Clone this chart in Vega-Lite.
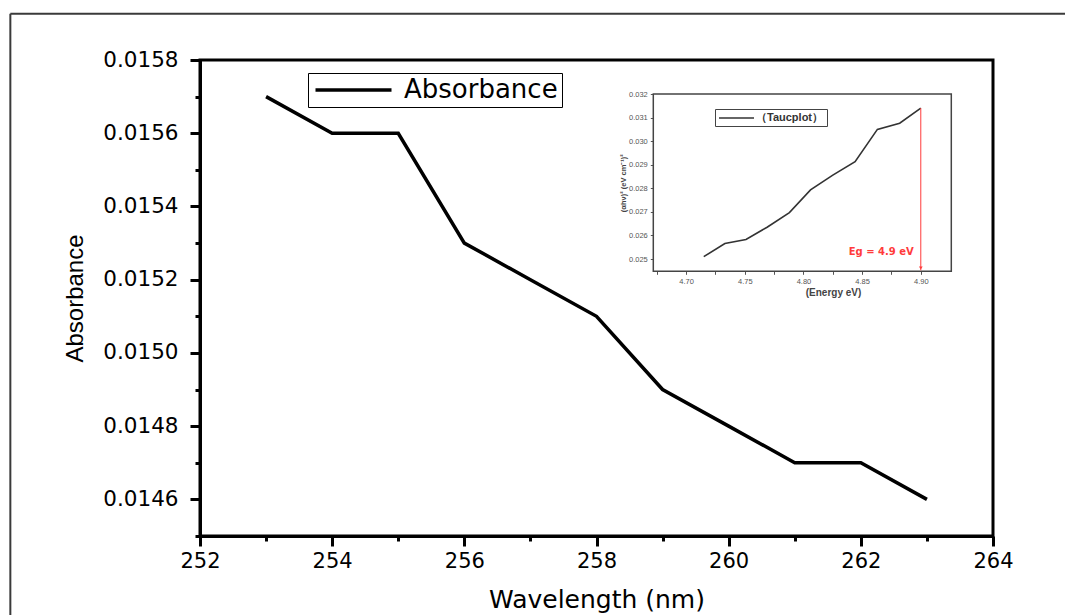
{
  "$schema": "https://vega.github.io/schema/vega-lite/v6.json",
  "width": 793,
  "height": 476,
  "autosize": {"type": "none"},
  "padding": {"left": 200, "top": 60, "right": 72, "bottom": 79},
  "background": "white",
  "config": {
    "view": {"stroke": "black", "strokeWidth": 3},
    "axis": {"grid": false, "labelOverlap": false, "labelFlush": false}
  },
  "layer": [
    {
      "resolve": {"axis": {"x": "independent", "y": "independent"}},
      "layer": [
        {
          "data": {"values": [{}]},
          "mark": {"type": "rule", "color": "#3a3a3a", "strokeWidth": 2},
          "encoding": {
            "x": {"datum": 249.13, "type": "quantitative", "axis": null},
            "y": {
              "datum": 0.015926,
              "type": "quantitative",
              "axis": {
                "orient": "left",
                "values": [0.0145, 0.0147, 0.0149, 0.0151, 0.0153, 0.0155, 0.0157],
                "labels": false,
                "domain": false,
                "tickSize": 5,
                "tickWidth": 3,
                "tickColor": "black",
                "title": null
              }
            },
            "y2": {"datum": 0.0141}
          }
        },
        {
          "data": {"values": [{}]},
          "mark": {"type": "rule", "color": "#3a3a3a", "strokeWidth": 2},
          "encoding": {
            "x": {
              "datum": 249.13,
              "type": "quantitative",
              "axis": {
                "orient": "bottom",
                "values": [253, 255, 257, 259, 261, 263],
                "labels": false,
                "domain": false,
                "tickSize": 5,
                "tickWidth": 3,
                "tickColor": "black",
                "title": null
              }
            },
            "x2": {"datum": 266.5},
            "y": {"datum": 0.015926, "type": "quantitative", "axis": null}
          }
        },
        {
          "data": {
            "values": [
              {"wavelength": 253, "absorbance": 0.0157},
              {"wavelength": 254, "absorbance": 0.0156},
              {"wavelength": 255, "absorbance": 0.0156},
              {"wavelength": 256, "absorbance": 0.0153},
              {"wavelength": 257, "absorbance": 0.0152},
              {"wavelength": 258, "absorbance": 0.0151},
              {"wavelength": 259, "absorbance": 0.0149},
              {"wavelength": 260, "absorbance": 0.0148},
              {"wavelength": 261, "absorbance": 0.0147},
              {"wavelength": 262, "absorbance": 0.0147},
              {"wavelength": 263, "absorbance": 0.0146}
            ]
          },
          "mark": {"type": "line", "strokeWidth": 3.5, "strokeJoin": "miter"},
          "encoding": {
            "x": {
              "field": "wavelength",
              "type": "quantitative",
              "scale": {"domain": [252, 264], "nice": false, "zero": false},
              "axis": {
                "orient": "bottom",
                "values": [252, 254, 256, 258, 260, 262, 264],
                "format": "d",
                "tickSize": 10,
                "tickWidth": 3,
                "tickColor": "black",
                "domainColor": "black",
                "domainWidth": 3,
                "labelFont": "DejaVu Sans",
                "labelFontSize": 21,
                "labelColor": "black",
                "labelPadding": 4,
                "title": "Wavelength (nm)",
                "titleFont": "DejaVu Sans",
                "titleFontSize": 25,
                "titleFontWeight": "normal",
                "titleColor": "black",
                "titleBaseline": "alphabetic",
                "titleY": 71
              }
            },
            "y": {
              "field": "absorbance",
              "type": "quantitative",
              "scale": {"domain": [0.0145, 0.0158], "nice": false, "zero": false},
              "axis": {
                "orient": "left",
                "values": [0.0146, 0.0148, 0.015, 0.0152, 0.0154, 0.0156, 0.0158],
                "format": ".4f",
                "tickSize": 10,
                "tickWidth": 3,
                "tickColor": "black",
                "domainColor": "black",
                "domainWidth": 3,
                "labelFont": "DejaVu Sans",
                "labelFontSize": 21.5,
                "labelColor": "black",
                "labelPadding": 12,
                "labelBaseline": "middle",
                "title": "Absorbance",
                "titleFont": "Liberation Sans",
                "titleFontSize": 24,
                "titleFontWeight": "normal",
                "titleColor": "black",
                "titleAngle": -90,
                "titleBaseline": "alphabetic",
                "titleX": -118,
                "titleY": 238
              }
            },
            "color": {
              "datum": "Absorbance",
              "scale": {"range": ["black"]},
              "legend": {
                "orient": "none",
                "legendX": 108,
                "legendY": 13,
                "title": null,
                "symbolType": "M-1,0H7",
                "symbolSize": 361,
                "symbolStrokeWidth": 3.5,
                "labelFont": "DejaVu Sans",
                "labelFontSize": 26,
                "labelColor": "black",
                "labelOffset": 66,
                "labelLimit": 400,
                "padding": 4,
                "strokeColor": "black",
                "fillColor": "white",
                "cornerRadius": 0
              }
            }
          }
        }
      ]
    },
    {
      "layer": [
        {
          "data": {"values": [{}]},
          "mark": {"type": "rect", "fill": "transparent", "stroke": "#444444", "strokeWidth": 1.5},
          "encoding": {
            "x": {"datum": 4.672, "type": "quantitative"},
            "x2": {"datum": 4.926},
            "y": {"datum": 0.02448, "type": "quantitative"},
            "y2": {"datum": 0.032}
          }
        },
        {
          "data": {
            "values": [
              {"energy": 4.715, "tauc": 0.0251},
              {"energy": 4.733, "tauc": 0.02566},
              {"energy": 4.751, "tauc": 0.02583},
              {"energy": 4.769, "tauc": 0.02635},
              {"energy": 4.788, "tauc": 0.02697},
              {"energy": 4.806, "tauc": 0.02793},
              {"energy": 4.825, "tauc": 0.02856},
              {"energy": 4.844, "tauc": 0.02913},
              {"energy": 4.863, "tauc": 0.0305},
              {"energy": 4.882, "tauc": 0.03076},
              {"energy": 4.9, "tauc": 0.0314}
            ]
          },
          "mark": {"type": "line", "strokeWidth": 1.6},
          "encoding": {
            "x": {
              "field": "energy",
              "type": "quantitative",
              "scale": {"domain": [4.672, 4.926], "range": [453.3, 751.3], "nice": false, "zero": false},
              "axis": {
                "orient": "bottom",
                "offset": -264.7,
                "domain": false,
                "values": [4.675, 4.7, 4.725, 4.75, 4.775, 4.8, 4.825, 4.85, 4.875, 4.9],
                "labelExpr": "round(datum.value * 1000) % 50 == 0 ? format(datum.value, '.2f') : ''",
                "tickSize": 3,
                "tickWidth": 1,
                "tickColor": "#555555",
                "labelFont": "Liberation Sans",
                "labelFontSize": 7.5,
                "labelColor": "#555555",
                "labelPadding": 3,
                "title": "(Energy eV)",
                "titleFont": "Liberation Sans",
                "titleFontSize": 10,
                "titleFontWeight": "bold",
                "titleColor": "#444444",
                "titleX": 633,
                "titleY": 21,
                "titleBaseline": "middle"
              }
            },
            "y": {
              "field": "tauc",
              "type": "quantitative",
              "scale": {"domain": [0.02448, 0.032], "range": [211.3, 34], "nice": false, "zero": false},
              "axis": {
                "orient": "left",
                "offset": -453.3,
                "domain": false,
                "values": [0.025, 0.0255, 0.026, 0.0265, 0.027, 0.0275, 0.028, 0.0285, 0.029, 0.0295, 0.03, 0.0305, 0.031, 0.0315, 0.032],
                "labelExpr": "round(datum.value * 10000) % 10 == 0 ? format(datum.value, '.3f') : ''",
                "tickSize": 3,
                "tickWidth": 1,
                "tickColor": "#555555",
                "labelFont": "Liberation Sans",
                "labelFontSize": 7.5,
                "labelColor": "#555555",
                "labelPadding": 3,
                "labelBaseline": "middle",
                "title": "(αhν)² (eV cm⁻¹)²",
                "titleFont": "Liberation Sans",
                "titleFontSize": 7.5,
                "titleFontWeight": "bold",
                "titleColor": "#444444",
                "titleAngle": -90,
                "titleX": -30,
                "titleBaseline": "middle"
              }
            },
            "color": {
              "datum": "（Taucplot）",
              "scale": {"range": ["#333333"]},
              "legend": {
                "orient": "none",
                "legendX": 515,
                "legendY": 49,
                "title": null,
                "symbolType": "M-1,0H6",
                "symbolSize": 100,
                "symbolStrokeWidth": 1.6,
                "labelFont": "Liberation Sans",
                "labelFontSize": 11,
                "labelFontWeight": "bold",
                "labelColor": "#333333",
                "labelOffset": 26,
                "padding": 3,
                "strokeColor": "#444444",
                "fillColor": "white",
                "cornerRadius": 0
              }
            }
          }
        },
        {
          "data": {"values": [{}]},
          "mark": {"type": "rule", "color": "#ff3b3b", "strokeWidth": 1},
          "encoding": {
            "x": {"datum": 4.9, "type": "quantitative"},
            "y": {"datum": 0.0314, "type": "quantitative"},
            "y2": {"datum": 0.02452}
          }
        },
        {
          "data": {"values": [{}]},
          "mark": {"type": "point", "shape": "triangle-down", "filled": true, "color": "#ff3b3b", "size": 14, "opacity": 1},
          "encoding": {
            "x": {"datum": 4.9, "type": "quantitative"},
            "y": {"datum": 0.02462, "type": "quantitative"}
          }
        },
        {
          "data": {"values": [{}]},
          "mark": {
            "type": "text",
            "text": "Eg = 4.9 eV",
            "align": "right",
            "baseline": "middle",
            "font": "DejaVu Sans",
            "fontSize": 10,
            "fontWeight": "bold",
            "color": "#ff3b3b"
          },
          "encoding": {
            "x": {"datum": 4.894, "type": "quantitative"},
            "y": {"datum": 0.0253, "type": "quantitative"}
          }
        }
      ]
    }
  ],
  "resolve": {"scale": {"x": "independent", "y": "independent", "color": "independent"}}
}
